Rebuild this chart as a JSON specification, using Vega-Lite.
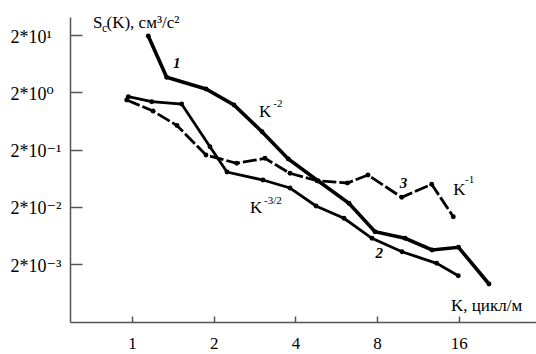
{
  "$schema": "https://vega.github.io/schema/vega-lite/v6.json",
  "width": 466,
  "height": 305,
  "autosize": {"type": "none"},
  "padding": {"left": 70, "top": 17, "right": 0, "bottom": 32},
  "background": "white",
  "config": {"view": {"stroke": null}, "font": "'Liberation Serif', 'Times New Roman', 'DejaVu Serif', serif"},
  "datasets": {
    "curves": [
      {"curve": "1", "K": 1.148, "S": 19.36},
      {"curve": "1", "K": 1.342, "S": 3.673},
      {"curve": "1", "K": 1.873, "S": 2.293},
      {"curve": "1", "K": 2.376, "S": 1.204},
      {"curve": "1", "K": 3.013, "S": 0.4113},
      {"curve": "1", "K": 3.766, "S": 0.137},
      {"curve": "1", "K": 4.857, "S": 0.05654},
      {"curve": "1", "K": 6.302, "S": 0.02305},
      {"curve": "1", "K": 7.858, "S": 0.007347},
      {"curve": "1", "K": 10.14, "S": 0.005633},
      {"curve": "1", "K": 12.75, "S": 0.003518},
      {"curve": "1", "K": 15.96, "S": 0.003923},
      {"curve": "1", "K": 20.67, "S": 0.000895},
      {"curve": "2", "K": 0.969, "S": 1.682},
      {"curve": "2", "K": 1.182, "S": 1.375},
      {"curve": "2", "K": 1.524, "S": 1.254},
      {"curve": "2", "K": 1.938, "S": 0.2248},
      {"curve": "2", "K": 2.239, "S": 0.08121},
      {"curve": "2", "K": 3.038, "S": 0.05885},
      {"curve": "2", "K": 3.821, "S": 0.04266},
      {"curve": "2", "K": 4.764, "S": 0.02067},
      {"curve": "2", "K": 6.04, "S": 0.0126},
      {"curve": "2", "K": 7.661, "S": 0.005633},
      {"curve": "2", "K": 9.881, "S": 0.003285},
      {"curve": "2", "K": 13.26, "S": 0.00206},
      {"curve": "2", "K": 15.93, "S": 0.001251},
      {"curve": "3", "K": 0.956, "S": 1.473},
      {"curve": "3", "K": 1.195, "S": 0.946},
      {"curve": "3", "K": 1.465, "S": 0.5279},
      {"curve": "3", "K": 1.873, "S": 0.161},
      {"curve": "3", "K": 2.431, "S": 0.1153},
      {"curve": "3", "K": 3.09, "S": 0.1409},
      {"curve": "3", "K": 3.821, "S": 0.07709},
      {"curve": "3", "K": 4.804, "S": 0.05722},
      {"curve": "3", "K": 6.223, "S": 0.05217},
      {"curve": "3", "K": 7.405, "S": 0.07197},
      {"curve": "3", "K": 9.856, "S": 0.02934},
      {"curve": "3", "K": 12.71, "S": 0.04951},
      {"curve": "3", "K": 15.27, "S": 0.01344}
    ],
    "labels": [
      {"kind": "curve", "text": "1", "K": 1.461, "S": 6.452},
      {"kind": "curve", "text": "2", "K": 8.15, "S": 0.003181},
      {"kind": "curve", "text": "3", "K": 10.01, "S": 0.05155},
      {"kind": "main", "text": "K", "K": 2.937, "S": 0.752},
      {"kind": "sup", "text": "-2", "K": 3.316, "S": 1.098},
      {"kind": "main", "text": "K", "K": 2.721, "S": 0.01541},
      {"kind": "sup", "text": "-3/2", "K": 3.064, "S": 0.0224},
      {"kind": "main", "text": "K", "K": 15.27, "S": 0.03218},
      {"kind": "sup", "text": "-1", "K": 16.86, "S": 0.05155},
      {"kind": "main", "text": "S", "K": 0.7185, "S": 26.72},
      {"kind": "sub", "text": "c", "K": 0.7749, "S": 23.2},
      {"kind": "main", "text": "(K), см³/с²", "K": 0.8054, "S": 26.72},
      {"kind": "main", "text": "K, цикл/м", "K": 14.97, "S": 0.000302}
    ]
  },
  "encoding": {
    "x": {
      "field": "K",
      "type": "quantitative",
      "scale": {"type": "log", "domain": [0.591, 30.8], "nice": false},
      "axis": {
        "values": [1, 2, 4, 8, 16],
        "format": "d",
        "title": null,
        "grid": false,
        "tickSize": -6,
        "labelPadding": 19,
        "labelFontSize": 17,
        "labelColor": "black",
        "domainColor": "#555",
        "tickColor": "#555",
        "domainWidth": 1.5,
        "tickWidth": 1.5,
        "labelFlush": false
      }
    },
    "y": {
      "field": "S",
      "type": "quantitative",
      "scale": {"type": "log", "domain": [0.000194, 41.6], "nice": false},
      "axis": {
        "values": [0.002, 0.02, 0.2, 2, 20],
        "labelExpr": "datum.value > 10 ? '2*10¹' : datum.value > 1 ? '2*10⁰' : datum.value > 0.1 ? '2*10⁻¹' : datum.value > 0.01 ? '2*10⁻²' : '2*10⁻³'",
        "title": null,
        "grid": false,
        "tickSize": -12,
        "labelAlign": "left",
        "labelPadding": 72,
        "labelOffset": 2,
        "labelFontSize": 18,
        "labelColor": "black",
        "domainColor": "#555",
        "tickColor": "#555",
        "domainWidth": 1.5,
        "tickWidth": 1.5,
        "labelFlush": false
      }
    }
  },
  "layer": [
    {
      "data": {"name": "curves"},
      "transform": [{"filter": "datum.curve == '1'"}],
      "mark": {"type": "line", "color": "black", "strokeWidth": 3.6}
    },
    {
      "data": {"name": "curves"},
      "transform": [{"filter": "datum.curve == '2'"}],
      "mark": {"type": "line", "color": "black", "strokeWidth": 2.8}
    },
    {
      "data": {"name": "curves"},
      "transform": [{"filter": "datum.curve == '3'"}],
      "mark": {"type": "line", "color": "black", "strokeWidth": 2.8, "strokeDash": [14, 3]}
    },
    {
      "data": {"name": "curves"},
      "mark": {"type": "point", "filled": true, "color": "black", "size": 24, "opacity": 1}
    },
    {
      "data": {"name": "labels"},
      "transform": [{"filter": "datum.kind == 'curve'"}],
      "mark": {"type": "text", "fontSize": 15, "fontStyle": "italic", "fontWeight": "bold", "align": "center", "baseline": "middle", "color": "black"},
      "encoding": {"text": {"field": "text"}}
    },
    {
      "data": {"name": "labels"},
      "transform": [{"filter": "datum.kind == 'main'"}],
      "mark": {"type": "text", "fontSize": 17, "align": "left", "baseline": "alphabetic", "color": "black"},
      "encoding": {"text": {"field": "text"}}
    },
    {
      "data": {"name": "labels"},
      "transform": [{"filter": "datum.kind == 'sup'"}],
      "mark": {"type": "text", "fontSize": 11, "align": "left", "baseline": "alphabetic", "color": "black"},
      "encoding": {"text": {"field": "text"}}
    },
    {
      "data": {"name": "labels"},
      "transform": [{"filter": "datum.kind == 'sub'"}],
      "mark": {"type": "text", "fontSize": 12, "align": "left", "baseline": "alphabetic", "color": "black"},
      "encoding": {"text": {"field": "text"}}
    }
  ]
}
